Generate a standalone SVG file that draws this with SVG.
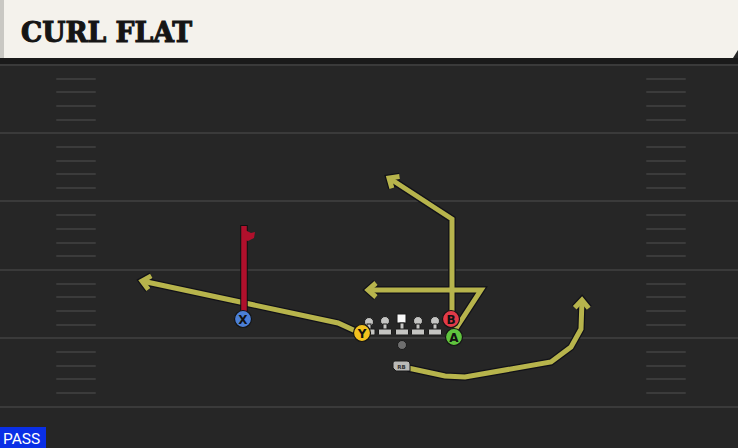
<svg xmlns="http://www.w3.org/2000/svg" width="738" height="448" viewBox="0 0 738 448">
<defs>
<style>
.yl{stroke:#3a3a3a;stroke-width:2;fill:none}
.hm{stroke:#3b3b3b;stroke-width:2;fill:none;stroke-linecap:round}
.out{fill:none;stroke:#111118;stroke-width:7.5;stroke-linejoin:miter;stroke-linecap:butt}
.rt{fill:none;stroke:#b7b44c;stroke-width:5;stroke-linejoin:miter;stroke-linecap:butt}
.red{fill:none;stroke:#b0102c;stroke-width:5.5;stroke-linecap:butt}
.pl{stroke:#141414;stroke-width:1.2}
.lt{font-family:'DejaVu Sans','Liberation Sans',sans-serif;font-weight:bold;font-size:12px;fill:#111;text-anchor:middle}
.ol{fill:#c4c4c2;stroke:#1a1a1a;stroke-width:1}
</style>
<marker id="ao" markerUnits="userSpaceOnUse" markerWidth="1" markerHeight="1" orient="auto" overflow="visible" refX="0" refY="0">
<path d="M-8,-7 L0,0 L-8,7" fill="none" stroke="#111118" stroke-width="7.5" stroke-linejoin="miter"/>
</marker>
<marker id="ay" markerUnits="userSpaceOnUse" markerWidth="1" markerHeight="1" orient="auto" overflow="visible" refX="0" refY="0">
<path d="M-8,-7 L0,0 L-8,7" fill="none" stroke="#b7b44c" stroke-width="5" stroke-linejoin="miter"/>
</marker>
</defs>
<rect x="0" y="0" width="738" height="448" fill="#262626"/>
<rect x="0" y="58" width="738" height="6" fill="#1a1a1a"/>
<g id="field">
<line class="yl" x1="0" y1="65" x2="738" y2="65"/>
<line class="yl" x1="0" y1="133" x2="738" y2="133"/>
<line class="yl" x1="0" y1="201" x2="738" y2="201"/>
<line class="yl" x1="0" y1="270" x2="738" y2="270"/>
<line class="yl" x1="0" y1="338" x2="738" y2="338"/>
<line class="yl" x1="0" y1="407" x2="738" y2="407"/>
<g id="hash-left">
<line class="hm" x1="57" y1="79" x2="95" y2="79"/><line class="hm" x1="57" y1="92" x2="95" y2="92"/><line class="hm" x1="57" y1="106" x2="95" y2="106"/><line class="hm" x1="57" y1="120" x2="95" y2="120"/>
<line class="hm" x1="57" y1="147" x2="95" y2="147"/><line class="hm" x1="57" y1="161" x2="95" y2="161"/><line class="hm" x1="57" y1="174" x2="95" y2="174"/><line class="hm" x1="57" y1="188" x2="95" y2="188"/>
<line class="hm" x1="57" y1="215" x2="95" y2="215"/><line class="hm" x1="57" y1="229" x2="95" y2="229"/><line class="hm" x1="57" y1="243" x2="95" y2="243"/><line class="hm" x1="57" y1="256" x2="95" y2="256"/>
<line class="hm" x1="57" y1="284" x2="95" y2="284"/><line class="hm" x1="57" y1="297" x2="95" y2="297"/><line class="hm" x1="57" y1="311" x2="95" y2="311"/><line class="hm" x1="57" y1="325" x2="95" y2="325"/>
<line class="hm" x1="57" y1="352" x2="95" y2="352"/><line class="hm" x1="57" y1="366" x2="95" y2="366"/><line class="hm" x1="57" y1="379" x2="95" y2="379"/><line class="hm" x1="57" y1="393" x2="95" y2="393"/>
</g>
<g id="hash-right">
<line class="hm" x1="647" y1="79" x2="685" y2="79"/><line class="hm" x1="647" y1="92" x2="685" y2="92"/><line class="hm" x1="647" y1="106" x2="685" y2="106"/><line class="hm" x1="647" y1="120" x2="685" y2="120"/>
<line class="hm" x1="647" y1="147" x2="685" y2="147"/><line class="hm" x1="647" y1="161" x2="685" y2="161"/><line class="hm" x1="647" y1="174" x2="685" y2="174"/><line class="hm" x1="647" y1="188" x2="685" y2="188"/>
<line class="hm" x1="647" y1="215" x2="685" y2="215"/><line class="hm" x1="647" y1="229" x2="685" y2="229"/><line class="hm" x1="647" y1="243" x2="685" y2="243"/><line class="hm" x1="647" y1="256" x2="685" y2="256"/>
<line class="hm" x1="647" y1="284" x2="685" y2="284"/><line class="hm" x1="647" y1="297" x2="685" y2="297"/><line class="hm" x1="647" y1="311" x2="685" y2="311"/><line class="hm" x1="647" y1="325" x2="685" y2="325"/>
<line class="hm" x1="647" y1="352" x2="685" y2="352"/><line class="hm" x1="647" y1="366" x2="685" y2="366"/><line class="hm" x1="647" y1="379" x2="685" y2="379"/><line class="hm" x1="647" y1="393" x2="685" y2="393"/>
</g>
</g>
<g id="header">
<rect x="0" y="0" width="6" height="58" fill="#c9c8c3"/>
<path d="M4,0 H738 V50 L733,58 H4 Z" fill="#f4f2ec"/>
<text x="21" y="42" font-family="'DejaVu Serif Condensed','DejaVu Serif','Liberation Serif',serif" font-stretch="condensed" font-weight="bold" font-size="28" textLength="171" lengthAdjust="spacingAndGlyphs" fill="#151515" stroke="#151515" stroke-width="1">CURL FLAT</text>
</g>
<g id="connectors">
<path class="out" d="M338,323 L142,281" marker-end="url(#ao)"/>
<path class="out" d="M360,333 L338,323"/>
<path class="out" d="M452,311 V219 L389,178" marker-end="url(#ao)"/>
<path class="out" d="M455,330 L481,290 H368" marker-end="url(#ao)"/>
<path class="out" d="M408,368 L445,376 L465,377 L551,362 L571,347 L581,329 L582,300" marker-end="url(#ao)"/>
<path class="rt" d="M360,333 L338,323 L142,281" marker-end="url(#ay)"/>
<path class="rt" d="M452,311 V219 L389,178" marker-end="url(#ay)"/>
<path class="rt" d="M455,330 L481,290 H368" marker-end="url(#ay)"/>
<path class="rt" d="M408,368 L445,376 L465,377 L551,362 L571,347 L581,329 L582,300" marker-end="url(#ay)"/>
<path d="M244,312 V225" fill="none" stroke="#111" stroke-width="7.5"/>
<path class="red" d="M244,312 V226"/>
<path d="M245,230 L251,233 L255,232 L254,238 L248,241 L245,240 Z" fill="#b0102c"/>
</g>
<g id="line">
<g id="lg"><circle cx="369" cy="322" r="4.5" class="ol"/><rect x="367" y="324" width="4" height="6" class="ol"/><rect x="362" y="329" width="13" height="6" rx="1" class="ol"/></g>
<g id="ltk"><circle cx="385" cy="321" r="4.5" class="ol"/><rect x="383" y="324" width="4" height="6" class="ol"/><rect x="378.5" y="329" width="13" height="6" rx="1" class="ol"/></g>
<g id="c"><rect x="397" y="314" width="9" height="9" fill="#f8f8f8" stroke="#1a1a1a" stroke-width="1"/><rect x="400" y="323" width="4" height="7" class="ol"/><rect x="395.5" y="329" width="13" height="6" rx="1" class="ol"/></g>
<g id="rg"><circle cx="418" cy="321" r="4.5" class="ol"/><rect x="416" y="324" width="4" height="6" class="ol"/><rect x="411.5" y="329" width="13" height="6" rx="1" class="ol"/></g>
<g id="rtk"><circle cx="435" cy="321" r="4.5" class="ol"/><rect x="433" y="324" width="4" height="6" class="ol"/><rect x="428.5" y="329" width="13" height="6" rx="1" class="ol"/></g>
</g>
<g id="qb"><circle cx="402" cy="345" r="4.5" fill="#6e6e6e" stroke="#1a1a1a" stroke-width="1"/></g>
<g id="rb">
<path d="M395,361 H407 Q410,361 410,364 V371 H396 L393,368 V363 Q393,361 395,361 Z" fill="#b9b9b7" stroke="#1a1a1a" stroke-width="1"/>
<text x="401.5" y="369" font-family="'DejaVu Sans','Liberation Sans',sans-serif" font-weight="bold" font-size="5.5" fill="#333" text-anchor="middle">RB</text>
</g>
<g id="x"><circle cx="243" cy="319" r="8.5" fill="#4b7fd6" class="pl"/><text x="243" y="323.5" class="lt">X</text></g>
<g id="y"><circle cx="362" cy="333" r="8.5" fill="#f2c11e" class="pl"/><text x="362" y="337.5" class="lt">Y</text></g>
<g id="b"><circle cx="451" cy="319" r="8.5" fill="#e23a48" class="pl"/><text x="451" y="323.5" class="lt">B</text></g>
<g id="a"><circle cx="454" cy="337" r="8.5" fill="#5fc43e" class="pl"/><text x="454" y="341.5" class="lt">A</text></g>
<g id="pass">
<rect x="0" y="427" width="46" height="21" fill="#0a2fe6"/>
<text x="3" y="444" font-family="Roboto,'Liberation Sans',sans-serif" font-size="15.5" fill="#ffffff">PASS</text>
</g>
</svg>
